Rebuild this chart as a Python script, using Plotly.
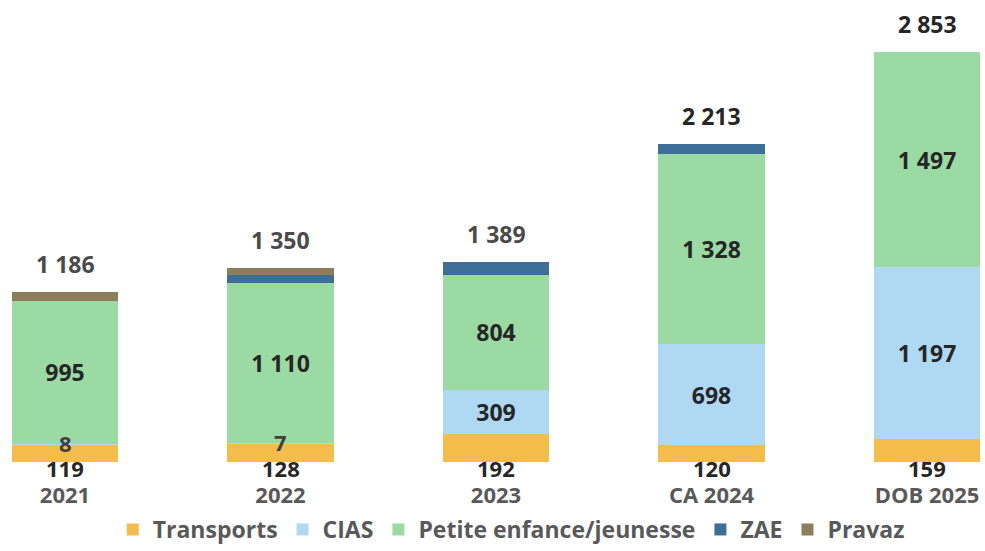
import plotly.graph_objects as go

categories = ["2021", "2022", "2023", "CA 2024", "DOB 2025"]
transports = [119, 128, 192, 120, 159]
cias = [8, 7, 309, 698, 1197]
petite_enfance = [995, 1110, 804, 1328, 1497]
zae = [0, 55, 84, 67, 0]
pravaz = [64, 50, 0, 0, 0]
totals = [1186, 1350, 1389, 2213, 2853]

def fmt(v):
    return f"{v:,}".replace(",", " ")

FONT = "Open Sans"
DARK = "#262626"
GREY = "#595959"

colors = {
    "Transports": "#F4BD4B",
    "CIAS": "#AFD8F3",
    "Petite enfance/jeunesse": "#9BDBA3",
    "ZAE": "#3D6F98",
    "Pravaz": "#8C7E5B",
}

fig = go.Figure()
series = [
    ("Transports", transports, False),
    ("CIAS", cias, True),
    ("Petite enfance/jeunesse", petite_enfance, True),
    ("ZAE", zae, False),
    ("Pravaz", pravaz, False),
]
for name, vals, show in series:
    texts = [fmt(v) if (show and v >= 100) else "" for v in vals]
    fig.add_trace(go.Bar(
        x=categories, y=vals, name=name,
        marker=dict(color=colors[name], line=dict(width=0)),
        text=texts, textposition="inside", insidetextanchor="middle",
        textangle=0, constraintext="none",
        textfont=dict(family=FONT, size=23, color=DARK, weight="bold"),
        hoverinfo="x+y+name",
    ))

annotations = []
for i, c in enumerate(categories):
    annotations.append(dict(x=i, y=totals[i], xref="x", yref="y", text=fmt(totals[i]),
                            showarrow=False, yanchor="bottom", yshift=10,
                            font=dict(family=FONT, size=23, color=DARK if i >= 3 else "#4a4a4a", weight="bold")))
    annotations.append(dict(x=i, y=0, xref="x", yref="y", text=fmt(transports[i]),
                            showarrow=False, yanchor="middle", yshift=-6,
                            font=dict(family=FONT, size=22, color=DARK, weight="bold")))
    if cias[i] < 100:
        annotations.append(dict(x=i, y=transports[i] + cias[i], xref="x", yref="y",
                                text=fmt(cias[i]), showarrow=False, yanchor="middle", yshift=1,
                                font=dict(family=FONT, size=22, color="#404040", weight="bold")))

fig.update_layout(
    barmode="stack",
    bargap=0.505,
    width=985, height=551,
    margin=dict(l=0, r=0, t=31, b=89, autoexpand=False),
    paper_bgcolor="white", plot_bgcolor="white",
    showlegend=True,
    legend=dict(orientation="h", x=0.519, xanchor="center", xref="container",
                y=0.0, yanchor="bottom", yref="container",
                traceorder="normal",
                font=dict(family=FONT, size=23, color=GREY, weight="bold"),
                itemwidth=30, tracegroupgap=0),
    annotations=annotations,
    xaxis=dict(type="category", range=[-0.3016, 4.269], showgrid=False, zeroline=False, showline=False,
               automargin=False,
               ticks="outside", ticklen=14, tickcolor="rgba(0,0,0,0)",
               tickfont=dict(family=FONT, size=22, color=GREY, weight="bold")),
    yaxis=dict(range=[0, 3000], visible=False, showgrid=False, zeroline=False, automargin=False),
)

fig.write_html("out.html", config={"displayModeBar": False},
               post_script="document.body.style.margin='0';document.body.style.overflow='hidden';")
